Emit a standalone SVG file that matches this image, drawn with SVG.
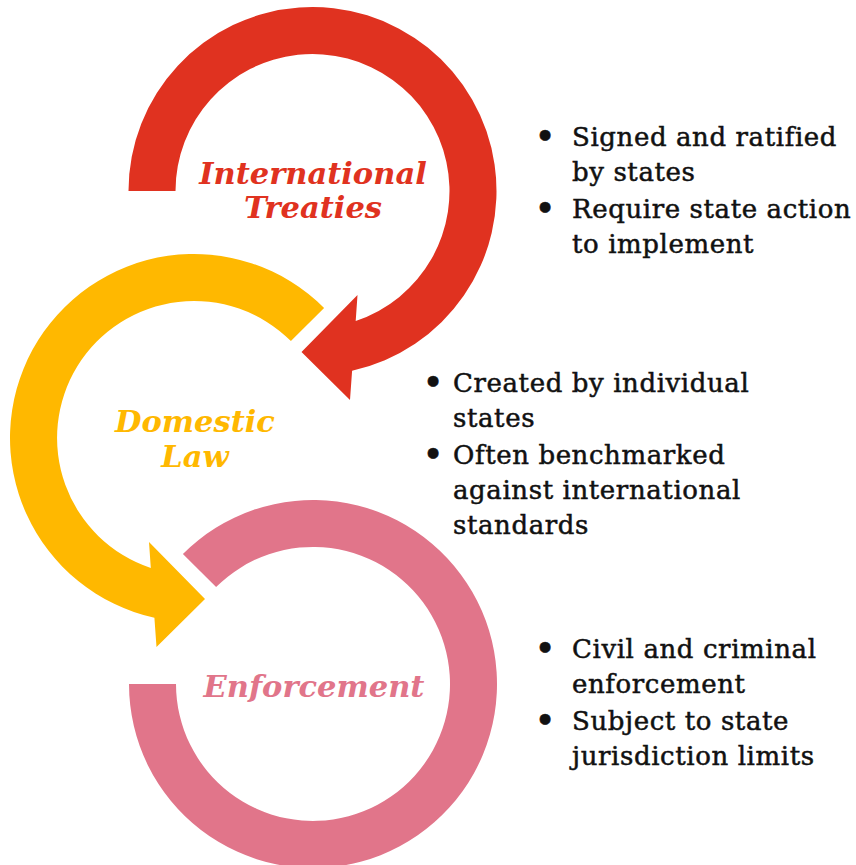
<svg xmlns="http://www.w3.org/2000/svg" width="856" height="865" viewBox="0 0 856 865">
<style>
.lbl{font-family:"DejaVu Serif","Liberation Serif",serif;font-weight:bold;font-style:italic;font-size:30.5px;text-anchor:middle}
.body{font-family:"DejaVu Serif","Liberation Serif",serif;font-size:26px;fill:#111;stroke:#111;stroke-width:0.5px;letter-spacing:0.6px}
.bul{font-family:"DejaVu Sans","Liberation Sans",sans-serif;font-size:30px;font-weight:bold;text-anchor:middle;letter-spacing:0}
.red{fill:#E03220}
.yel{fill:#FFB800}
.pink{fill:#E1758A}
</style>
<rect width="856" height="865" fill="#fff"/>
<g id="connectors"/>
<g id="treaties">
<path class="red" d="M128.5,191 A184,184 0 1,1 352.1,370.7 L350,400 L301.5,352 L357.5,295 L355.7,321 A137,137 0 1,0 175.5,191 Z"/>
<text class="lbl red" x="313" y="184">International</text>
<text class="lbl red" x="313" y="218">Treaties</text>
</g>
<g id="domestic">
<path class="yel" d="M324.1,307.9 A184,184 0 1,0 154.4,617.7 L156.5,647 L205,599 L149,542 L150.8,568 A137,137 0 1,1 290.9,341.1 Z"/>
<text class="lbl yel" x="195" y="432">Domestic</text>
<text class="lbl yel" x="195" y="467">Law</text>
</g>
<g id="enforcement">
<path class="pink" d="M182.9,553.9 A184,184 0 1,1 129,684 L176,684 A137,137 0 1,0 216.1,587.1 Z"/>
<text class="lbl pink" x="314" y="697">Enforcement</text>
</g>
<g id="notes-treaties" class="body">
<text class="bul" x="545" y="147">•</text>
<text x="572" y="146">Signed and ratified</text>
<text x="572" y="181">by states</text>
<text class="bul" x="545" y="219">•</text>
<text x="572" y="218">Require state action</text>
<text x="572" y="253">to implement</text>
</g>
<g id="notes-domestic" class="body">
<text class="bul" x="433" y="393">•</text>
<text x="453" y="392">Created by individual</text>
<text x="453" y="427">states</text>
<text class="bul" x="433" y="465">•</text>
<text x="453" y="464">Often benchmarked</text>
<text x="453" y="499">against international</text>
<text x="453" y="534">standards</text>
</g>
<g id="notes-enforcement" class="body">
<text class="bul" x="545" y="659">•</text>
<text x="572" y="658">Civil and criminal</text>
<text x="572" y="693">enforcement</text>
<text class="bul" x="545" y="731">•</text>
<text x="572" y="730">Subject to state</text>
<text x="572" y="765">jurisdiction limits</text>
</g>
</svg>
